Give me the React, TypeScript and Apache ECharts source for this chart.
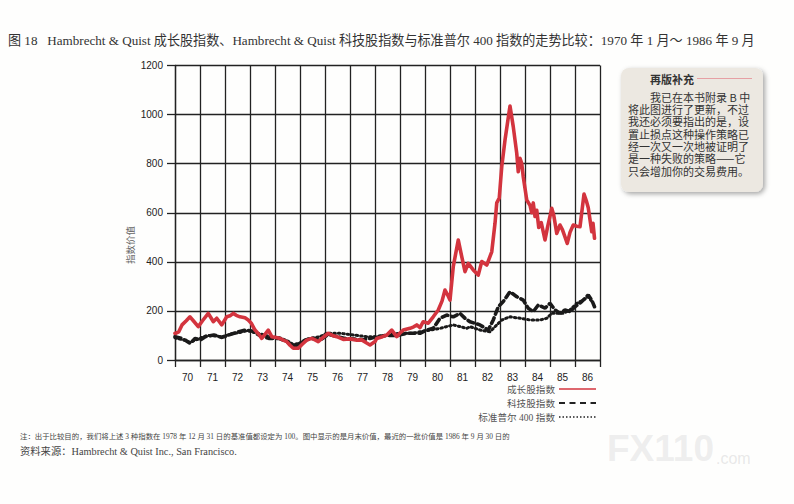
import React, { useEffect, useRef } from "react";
import * as echarts from "echarts";

const yearLabels = ["70","71","72","73","74","75","76","77","78","79","80","81","82","83","84","85","86"];

const growth: [number, number][] = [
  [1970.0,108],[1970.15,115],[1970.28,143],[1970.45,160],[1970.6,176],[1970.75,158],[1970.93,136],
  [1971.1,160],[1971.33,190],[1971.45,170],[1971.53,156],[1971.67,170],[1971.87,143],
  [1972.07,176],[1972.2,180],[1972.33,190],[1972.45,182],[1972.6,176],[1972.8,172],[1972.93,163],
  [1973.05,150],[1973.2,122],[1973.35,105],[1973.47,88],[1973.6,105],[1973.73,122],[1973.87,95],
  [1974.05,92],[1974.2,88],[1974.35,80],[1974.47,75],[1974.6,60],[1974.73,48],[1974.93,48],
  [1975.1,65],[1975.27,81],[1975.47,88],[1975.6,82],[1975.73,75],[1975.9,90],
  [1976.13,109],[1976.3,100],[1976.47,95],[1976.73,84],[1977.0,86],[1977.27,81],[1977.47,82],
  [1977.65,70],[1977.8,61],[1978.0,75],[1978.07,88],[1978.3,95],[1978.47,102],[1978.67,122],[1978.87,95],
  [1979.0,110],[1979.13,122],[1979.4,129],[1979.55,135],[1979.67,143],[1979.8,132],[1979.93,156],
  [1980.13,150],[1980.33,176],[1980.53,204],[1980.68,240],[1980.8,285],[1980.92,262],[1981.0,244],
  [1981.13,380],[1981.33,489],[1981.47,421],[1981.6,360],[1981.73,394],[1981.93,367],
  [1982.13,346],[1982.27,401],[1982.47,387],[1982.67,441],[1982.8,557],[1982.87,640],[1982.97,660],
  [1983.07,788],[1983.2,896],[1983.32,980],[1983.4,1035],[1983.53,951],[1983.67,842],[1983.73,767],
  [1983.8,822],[1983.87,800],[1983.93,747],
  [1984.07,652],[1984.2,630],[1984.27,600],[1984.33,640],[1984.4,585],[1984.47,610],[1984.55,540],
  [1984.65,560],[1984.8,489],[1984.9,540],[1985.07,618],[1985.15,590],[1985.27,516],[1985.4,550],
  [1985.5,530],[1985.69,475],[1985.8,520],[1985.93,550],[1986.07,545],[1986.2,543],[1986.36,676],
  [1986.45,650],[1986.53,620],[1986.67,523],[1986.72,557],[1986.78,496]
];

const tech: [number, number][] = [
  [1970.0,95],[1970.2,90],[1970.41,81],[1970.61,68],[1970.81,88],[1971.01,81],[1971.21,95],
  [1971.55,102],[1971.88,92],[1972.15,102],[1972.55,115],[1972.81,122],[1973.08,118],[1973.35,102],
  [1973.75,88],[1974.15,88],[1974.48,75],[1974.75,54],[1975.01,68],[1975.21,81],[1975.5,88],
  [1975.8,80],[1976.13,105],[1976.5,95],[1976.8,88],[1977.2,85],[1977.5,82],[1977.8,88],
  [1978.07,95],[1978.5,100],[1978.87,100],[1979.27,109],[1979.8,109],[1980.07,122],[1980.33,129],
  [1980.6,170],[1980.87,183],[1981.13,176],[1981.4,190],[1981.6,170],[1981.8,156],[1982.2,143],
  [1982.53,122],[1982.73,163],[1982.93,217],[1983.13,238],[1983.4,278],[1983.67,258],[1983.93,244],
  [1984.13,211],[1984.33,197],[1984.53,224],[1984.8,211],[1985.0,231],[1985.2,204],[1985.4,190],
  [1985.6,204],[1985.8,197],[1986.0,217],[1986.27,238],[1986.53,265],[1986.67,244],[1986.78,217]
];

const sp400: [number, number][] = [
  [1970.0,90],[1970.2,85],[1970.4,80],[1970.6,72],[1970.9,85],[1971.3,100],[1971.6,98],[1971.9,95],
  [1972.3,108],[1972.6,112],[1972.9,120],[1973.2,112],[1973.5,104],[1973.8,95],[1974.2,90],
  [1974.5,78],[1974.75,62],[1975.0,70],[1975.3,85],[1975.6,92],[1975.8,95],[1976.07,109],
  [1976.6,109],[1977.13,102],[1977.67,95],[1978.07,95],[1978.47,102],[1979.0,109],[1979.53,109],
  [1979.8,115],[1980.2,122],[1980.6,129],[1981.13,143],[1981.67,129],[1981.8,136],[1982.2,122],
  [1982.6,115],[1982.87,143],[1983.07,163],[1983.4,176],[1983.8,170],[1984.2,163],[1984.6,163],
  [1984.87,170],[1985.07,190],[1985.53,190],[1985.8,204],[1986.07,231],[1986.33,244],
  [1986.53,258],[1986.73,231]
];

const titleText = "图 18   Hambrecht & Quist 成长股指数、Hambrecht & Quist 科技股指数与标准普尔 400 指数的走势比较：1970 年 1 月～ 1986 年 9 月";
const legendNames = ["成长股指数", "科技股指数", "标准普尔 400 指数"];
const yAxisTitle = "指数价值";
const noteTitle = "再版补充";
const noteLines = [
  "　　我已在本书附录 B 中",
  "将此图进行了更新，不过",
  "我还必须要指出的是，设",
  "置止损点这种操作策略已",
  "经一次又一次地被证明了",
  "是一种失败的策略——它",
  "只会增加你的交易费用。"
];
const footnote1 = "注：出于比较目的，我们将上述 3 种指数在 1978 年 12 月 31 日的基准值都设定为 100。图中显示的是月末价值，最近的一批价值是 1986 年 9 月 30 日的";
const footnote2 = "资料来源：Hambrecht & Quist Inc., San Francisco.";

const SERIF = '"Liberation Serif", "Noto Sans CJK SC", serif';
const SANS = '"Liberation Sans", Arial, sans-serif';
const CJK = '"Noto Sans CJK SC", sans-serif';

export default function App() {
  const ref = useRef<HTMLDivElement>(null);
  useEffect(() => {
    if (!ref.current) return;
    const chart = echarts.init(ref.current, null, { renderer: "svg" });
    const gridColor = "#222";
    const legendY = [389, 403, 417];
    const graphics: any[] = [
      { type: "text", left: 8, top: 34, style: { text: titleText, font: `13.1px ${SERIF}`, fill: "#333" } },
      { type: "text", x: 130, y: 245, rotation: Math.PI / 2, style: { text: yAxisTitle, font: `9.5px ${CJK}`, fill: "#666", align: "center", verticalAlign: "middle" } },
      // legend
      ...legendNames.map((n, i) => ({ type: "text", x: 555, y: legendY[i], style: { text: n, font: `9.6px ${SERIF}`, fill: "#555", align: "right", verticalAlign: "middle" } })),
      { type: "line", shape: { x1: 559, y1: legendY[0], x2: 596, y2: legendY[0] }, style: { stroke: "#d3343e", lineWidth: 1.6 } },
      { type: "line", shape: { x1: 559, y1: legendY[1], x2: 596, y2: legendY[1] }, style: { stroke: "#222", lineWidth: 2, lineDash: [6, 4.5] } },
      { type: "line", shape: { x1: 559, y1: legendY[2], x2: 596, y2: legendY[2] }, style: { stroke: "#222", lineWidth: 1.6, lineDash: [1.5, 2] } },
      // note box
      { type: "rect", shape: { x: 621, y: 68, width: 142, height: 124, r: 8 }, style: { fill: "#ece8e1", shadowBlur: 5, shadowColor: "rgba(0,0,0,0.35)", shadowOffsetX: 2, shadowOffsetY: 2 } },
      { type: "text", x: 650, y: 78.5, style: { text: noteTitle, font: `bold 11px ${CJK}`, fill: "#333", verticalAlign: "middle" } },
      { type: "line", shape: { x1: 697, y1: 78.5, x2: 752, y2: 78.5 }, style: { stroke: "#e6a0a4", lineWidth: 1 } },
      { type: "text", x: 628, y: 90.5, style: { text: noteLines.join("\n"), font: `11px ${CJK}`, lineHeight: 12.35, fill: "#333", verticalAlign: "top" } },
      // footnotes
      { type: "text", x: 20, y: 436, style: { text: footnote1, font: `7.4px ${SERIF}`, fill: "#444", verticalAlign: "middle" } },
      { type: "text", x: 20, y: 451, style: { text: footnote2, font: `10.3px ${SERIF}`, fill: "#444", verticalAlign: "middle" } },
      // watermark
      { type: "text", x: 607, y: 448, style: { text: "FX110", font: `bold 37px ${SANS}`, fill: "rgba(200,200,200,0.3)", verticalAlign: "middle" } },
      { type: "text", x: 716, y: 458, style: { text: ".com", font: `16px ${SANS}`, fill: "rgba(200,200,200,0.4)", verticalAlign: "middle" } }
    ];
    chart.setOption({
      animation: false,
      backgroundColor: "#fefefd",
      grid: { left: 175, right: 194, top: 65.5, bottom: 144, containLabel: false },
      xAxis: [
        {
          type: "category",
          data: yearLabels,
          boundaryGap: true,
          axisLine: { show: true, lineStyle: { color: gridColor, width: 1.3 } },
          axisTick: { show: true, length: 7, lineStyle: { color: gridColor, width: 1.3 } },
          axisLabel: { fontSize: 10, color: "#222", margin: 12, fontFamily: SANS },
          splitLine: { show: true, lineStyle: { color: gridColor, width: 1.3 } }
        },
        { type: "value", min: 1970, max: 1987, show: false }
      ],
      yAxis: {
        type: "value",
        min: 0,
        max: 1200,
        interval: 200,
        axisLine: { show: true, lineStyle: { color: gridColor, width: 1.3 } },
        axisTick: { show: true, length: 8, lineStyle: { color: gridColor, width: 1.3 } },
        axisLabel: { fontSize: 10, color: "#222", margin: 12, fontFamily: SANS, formatter: (v: number) => String(v) },
        splitLine: { show: true, lineStyle: { color: gridColor, width: 1.3 } }
      },
      series: [
        {
          name: legendNames[2], type: "line", xAxisIndex: 1, data: sp400, showSymbol: false, z: 3,
          lineStyle: { color: "#1a1a1a", width: 3, type: [1.5, 3], cap: "round" }
        },
        {
          name: legendNames[1], type: "line", xAxisIndex: 1, data: tech, showSymbol: false, z: 4,
          lineStyle: { color: "#1a1a1a", width: 3.6, type: [6, 4], cap: "round" }
        },
        {
          name: legendNames[0], type: "line", xAxisIndex: 1, data: growth, showSymbol: false, z: 5,
          lineStyle: { color: "#d3343e", width: 3.6, cap: "round", join: "round" }
        }
      ],
      graphic: graphics
    });
    return () => chart.dispose();
  }, []);
  return <div ref={ref} style={{ position: "absolute", left: 0, top: 0, width: 794, height: 504 }} />;
}
